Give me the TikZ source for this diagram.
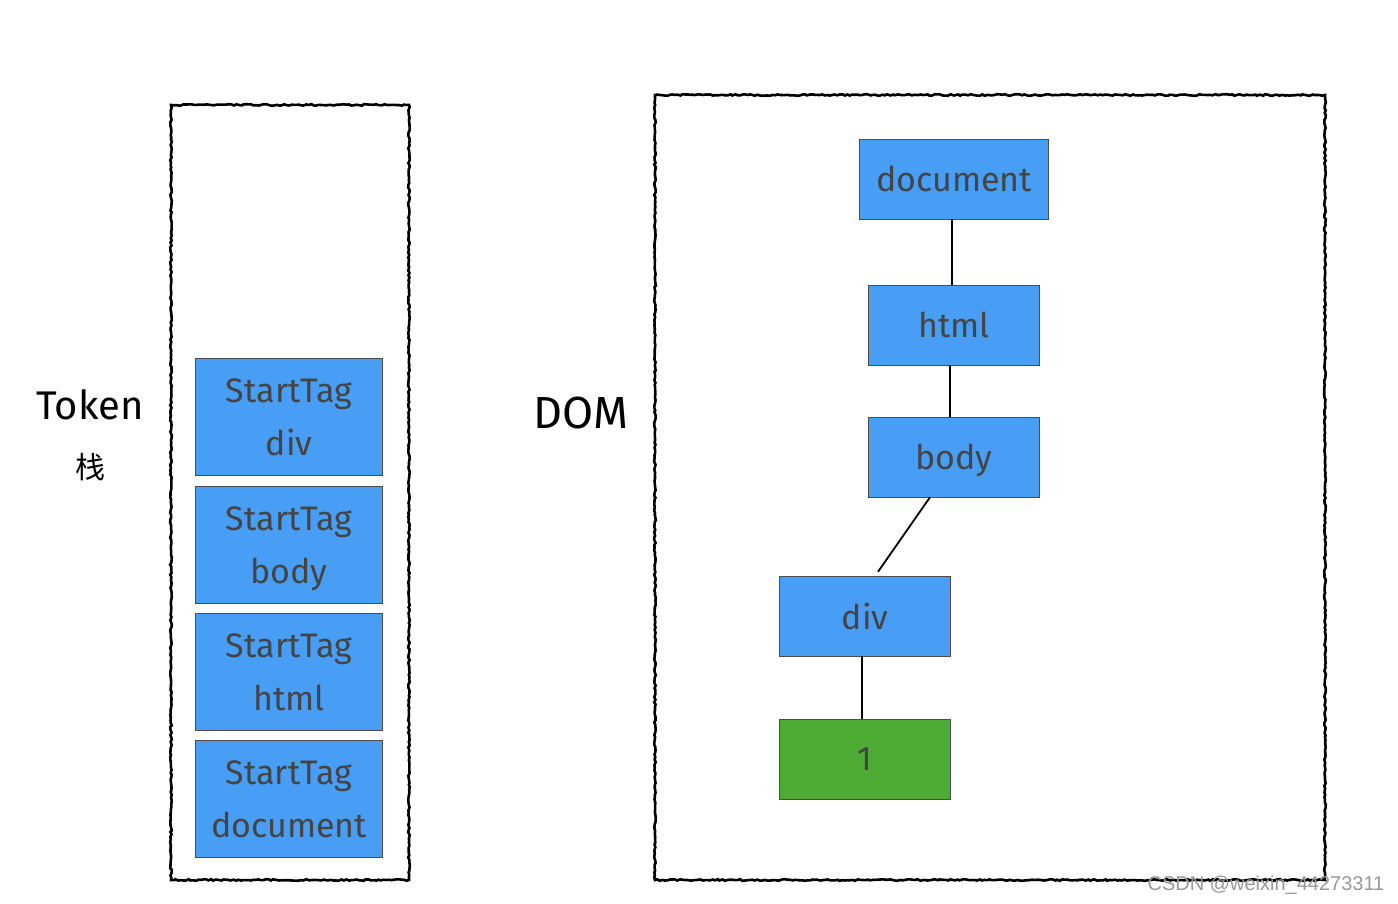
\documentclass[tikz,border=0pt]{standalone}
\usepackage{fontspec}
\setmainfont{Fira Sans}
\newfontfamily\cjk{Noto Sans CJK SC}
\newfontfamily\wmfont{Liberation Sans}
\usetikzlibrary{decorations.pathmorphing}
\definecolor{boxblue}{RGB}{72,157,245}
\definecolor{leafgreen}{RGB}{78,172,52}
\definecolor{textgray}{RGB}{68,68,68}
\begin{document}
\begin{tikzpicture}[
    x=1pt, y=-1pt,
    frame/.style={draw=black, line width=2.6pt, decorate,
      decoration={random steps, segment length=2.5pt, amplitude=0.8pt}},
    tok/.style={draw=black!70, fill=boxblue, minimum width=187pt, minimum height=117pt,
      inner sep=0pt, align=center, text=textgray, text depth=0pt, font=\fontsize{34}{53}\selectfont},
    dom/.style={draw=black!70, fill=boxblue, minimum width=171pt, minimum height=80pt,
      inner sep=0pt, text=textgray, text depth=0pt, font=\fontsize{34}{40}\selectfont},
    link/.style={draw=black, line width=1.8pt},
    caption/.style={font=\fontsize{40}{46}\selectfont}
  ]
    \useasboundingbox (0,0) rectangle (1398,904);

    % Containers
    \draw[frame] (171,105) rectangle (409,880);
    \draw[frame] (655,95) rectangle (1325,880);

    % Side labels
    \node[caption] (token) at (90,405) {Token};
    \node[font=\cjk\fontsize{30}{36}\selectfont] (stack) at (90,467) {栈};
    \node[caption, font=\fontsize{45}{50}\selectfont] (domlabel) at (581,413) {DOM};

    % Token stack
    \foreach \i/\tag/\y in {1/div/417, 2/body/545, 3/html/672, 4/document/799} {
      \node[tok] (t\i) at (289,\y) {StartTag\\\tag};
    }

    % DOM tree
    \node[dom, minimum width=189pt] (doc) at (954,179) {document};
    \node[dom] (html) at (954,325) {html};
    \node[dom] (body) at (954,457) {body};
    \node[dom] (div) at (865,616) {div};
    \node[dom, fill=leafgreen] (leaf) at (865,759) {1};

    \draw[link] ([xshift=-2pt]doc.south) -- ([xshift=-2pt]html.north);
    \draw[link] ([xshift=-4pt]html.south) -- ([xshift=-4pt]body.north);
    \draw[link] ([xshift=-24pt]body.south) -- ([xshift=13pt, yshift=4pt]div.north);
    \draw[link] ([xshift=-3pt]div.south) -- ([xshift=-3pt]leaf.north);

    % Watermark
    \node[font=\wmfont\fontsize{20}{24}\selectfont, text=black!40] (mark) at (1266,885) {CSDN @weixin\_44273311};
\end{tikzpicture}
\end{document}
